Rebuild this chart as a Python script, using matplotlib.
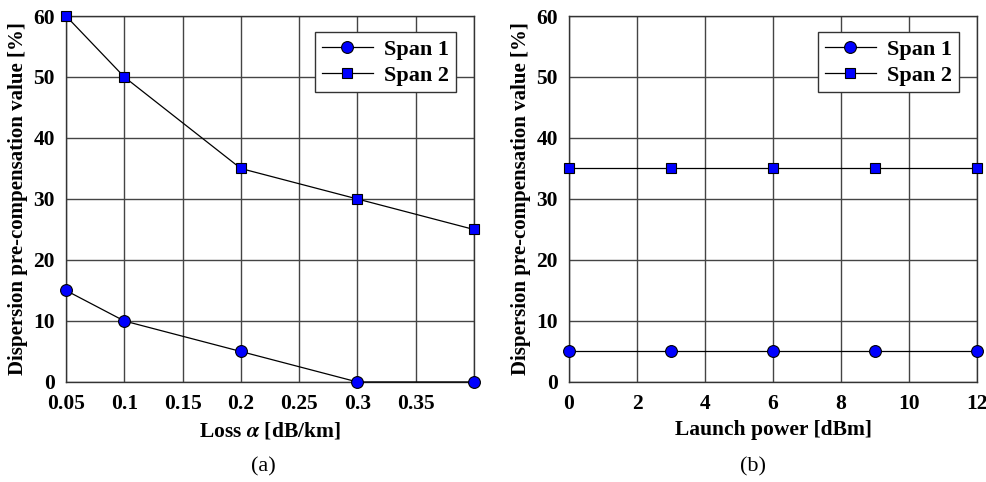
import matplotlib
matplotlib.use('Agg')
import matplotlib.pyplot as plt

# Data
loss = [0.05, 0.1, 0.2, 0.3, 0.4]
loss_span1 = [15, 10, 5, 0, 0]
loss_span2 = [60, 50, 35, 30, 25]

power = [0, 3, 6, 9, 12]
power_span1 = [5, 5, 5, 5, 5]
power_span2 = [35, 35, 35, 35, 35]

loss_ticks = [0.05, 0.1, 0.15, 0.2, 0.25, 0.3, 0.35]
loss_ticklabels = ['0.05', '0.1', '0.15', '0.2', '0.25', '0.3', '0.35']
power_ticks = [0, 2, 4, 6, 8, 10, 12]
y_ticks = [0, 10, 20, 30, 40, 50, 60]

# Graph settings
plt.rcParams['font.family'] = 'Liberation Serif'
plt.rcParams['font.weight'] = 'bold'
plt.rcParams['mathtext.fontset'] = 'stix'
plt.rcParams['axes.linewidth'] = 1.0

fig = plt.figure(figsize=(9.87, 4.82), dpi=100)
ax0 = fig.add_axes([0.0669, 0.2075, 0.4133, 0.7593])
ax1 = fig.add_axes([0.5765, 0.2075, 0.4134, 0.7593])


def style(ax):
    ax.grid(True, color='#444444', linewidth=1.0)
    ax.set_axisbelow(True)
    ax.tick_params(axis='x', length=0, pad=9, labelsize=15.5)
    ax.tick_params(axis='y', length=0, pad=8, labelsize=15.5)
    ax.set_ylim(0, 60)
    ax.set_yticks(y_ticks)
    ax.set_ylabel('Dispersion pre-compensation value [%]', fontweight='bold', fontsize=15, labelpad=4)
    for s in ax.spines.values():
        s.set_color('#333333')


mk1 = dict(color='black', lw=0.9, marker='o', ms=8.5, mfc='#0000ff', mec='black', mew=0.8, clip_on=False, zorder=3)
mk2 = dict(color='black', lw=0.9, marker='s', ms=7.2, mfc='#0000ff', mec='black', mew=0.8, clip_on=False, zorder=3)
leg_kw = dict(loc='upper right', bbox_to_anchor=(0.955, 0.955), fancybox=False, edgecolor='#333333',
              framealpha=1, handlelength=2.3, handletextpad=0.5, borderpad=0.3, labelspacing=0.25,
              borderaxespad=0, fontsize=16)

# (a) Loss
ax0.plot(loss, loss_span1, label='Span 1', **mk1)
ax0.plot(loss, loss_span2, label='Span 2', **mk2)
style(ax0)
ax0.set_xlim(0.05, 0.4)
ax0.set_xticks(loss_ticks + [0.4])
ax0.set_xticklabels(loss_ticklabels + [''])
ax0.set_xlabel('Loss $\\alpha$ [dB/km]', fontweight='bold', fontsize=15.5, labelpad=4)
ax0.legend(**leg_kw)

# (b) Launch power
ax1.plot(power, power_span1, label='Span 1', **mk1)
ax1.plot(power, power_span2, label='Span 2', **mk2)
style(ax1)
ax1.set_xlim(0, 12)
ax1.set_xticks(power_ticks)
ax1.set_xlabel('Launch power [dBm]', fontweight='bold', fontsize=15.5, labelpad=4)
ax1.legend(**leg_kw)

fig.text(0.2665, 0.022, '(a)', ha='center', fontweight='normal', fontsize=16)
fig.text(0.763, 0.022, '(b)', ha='center', fontweight='normal', fontsize=16)

fig.savefig('out.png', dpi=100)
